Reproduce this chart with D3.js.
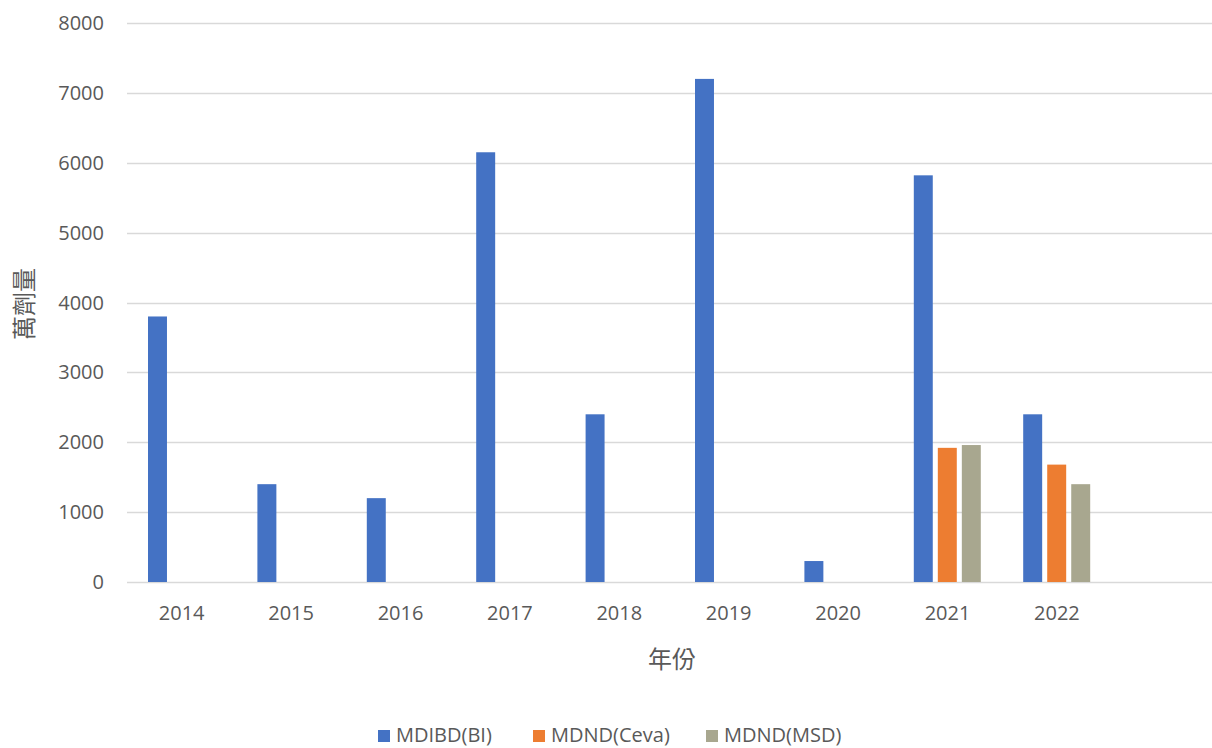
<!DOCTYPE html>
<html lang="zh-Hant">
<head>
<meta charset="UTF-8">
<title>萬劑量</title>
<script src="https://d3js.org/d3.v7.min.js"></script>
<style>
    body { margin: 0; background: #fff; }
    text { font-family: "Open Sans", "Noto Sans CJK TC", sans-serif; fill: #595959; }
</style>
</head>
<body>
<div id="chart"></div>
<script>
// data
var years = ['2014', '2015', '2016', '2017', '2018', '2019', '2020', '2021', '2022', ''];
var seriesNames = ['MDIBD(BI)', 'MDND(Ceva)', 'MDND(MSD)'];
var bi   = [3800, 1400, 1200, 6150, 2400, 7200, 300, 5820, 2400, null];
var ceva = [null, null, null, null, null, null, null, 1920, 1680, null];
var msd  = [null, null, null, null, null, null, null, 1960, 1400, null];
var yTicks = [0, 1000, 2000, 3000, 4000, 5000, 6000, 7000, 8000];
var colors = ['#4472C4', '#ED7D31', '#A8A78F'];

var W = 1212, H = 748;
var plotLeft = 127, plotTop = 23, plotBottom = 582;
var step = 109.4;

var svg = d3.select('#chart').append('svg')
    .attr('width', W)
    .attr('height', H);

var x = d3.scaleBand()
    .domain(years)
    .range([plotLeft, plotLeft + step * years.length])
    .padding(0);

var xs = d3.scaleBand()
    .domain(seriesNames)
    .range([21, 88])
    .paddingInner(0.21)
    .paddingOuter(0);

var y = d3.scaleLinear()
    .domain([0, 8000])
    .range([plotBottom, plotTop]);

// gridlines
svg.append('g')
    .selectAll('line')
    .data(yTicks)
    .enter()
    .append('line')
    .attr('x1', plotLeft)
    .attr('x2', W)
    .attr('y1', function (d) { return Math.round(y(d)) + 0.5; })
    .attr('y2', function (d) { return Math.round(y(d)) + 0.5; })
    .attr('stroke', '#d9d9d9')
    .attr('stroke-width', 1.6);

// y tick labels
svg.append('g')
    .selectAll('text')
    .data(yTicks)
    .enter()
    .append('text')
    .attr('x', 104)
    .attr('y', function (d) { return y(d); })
    .attr('dy', '0.35em')
    .attr('text-anchor', 'end')
    .style('font-size', '20px')
    .text(function (d) { return d; });

// bars
var allSeries = [bi, ceva, msd];
allSeries.forEach(function (vals, si) {
    var pts = years.map(function (yr, i) { return { year: yr, value: vals[i] }; })
        .filter(function (p) { return p.value != null; });
    svg.append('g')
        .selectAll('rect')
        .data(pts)
        .enter()
        .append('rect')
        .attr('x', function (d) { return x(d.year) + xs(seriesNames[si]); })
        .attr('y', function (d) { return y(d.value); })
        .attr('width', xs.bandwidth())
        .attr('height', function (d) { return y(0) - y(d.value); })
        .attr('fill', colors[si]);
});

// x tick labels
svg.append('g')
    .selectAll('text')
    .data(years)
    .enter()
    .append('text')
    .attr('x', function (d) { return x(d) + x.bandwidth() / 2; })
    .attr('y', 613)
    .attr('dy', '0.35em')
    .attr('text-anchor', 'middle')
    .style('font-size', '20px')
    .text(function (d) { return d; });

// axis titles
svg.append('text')
    .attr('x', 672)
    .attr('y', 660)
    .attr('dy', '0.35em')
    .attr('text-anchor', 'middle')
    .style('font-size', '24px')
    .text('年份');

svg.append('text')
    .attr('transform', 'translate(25,304) rotate(-90)')
    .attr('dy', '0.35em')
    .attr('text-anchor', 'middle')
    .style('font-size', '24px')
    .text('萬劑量');

// legend
var legendX = [378, 533, 706];
var legend = svg.append('g')
    .selectAll('g')
    .data(seriesNames)
    .enter()
    .append('g')
    .attr('transform', function (d, i) { return 'translate(' + legendX[i] + ',735)'; });

legend.append('rect')
    .attr('x', 0)
    .attr('y', -5)
    .attr('width', 12)
    .attr('height', 12)
    .attr('fill', function (d, i) { return colors[i]; });

legend.append('text')
    .attr('x', 18)
    .attr('y', 0)
    .attr('dy', '0.35em')
    .style('font-size', '20px')
    .text(function (d) { return d; });
</script>
</body>
</html>
